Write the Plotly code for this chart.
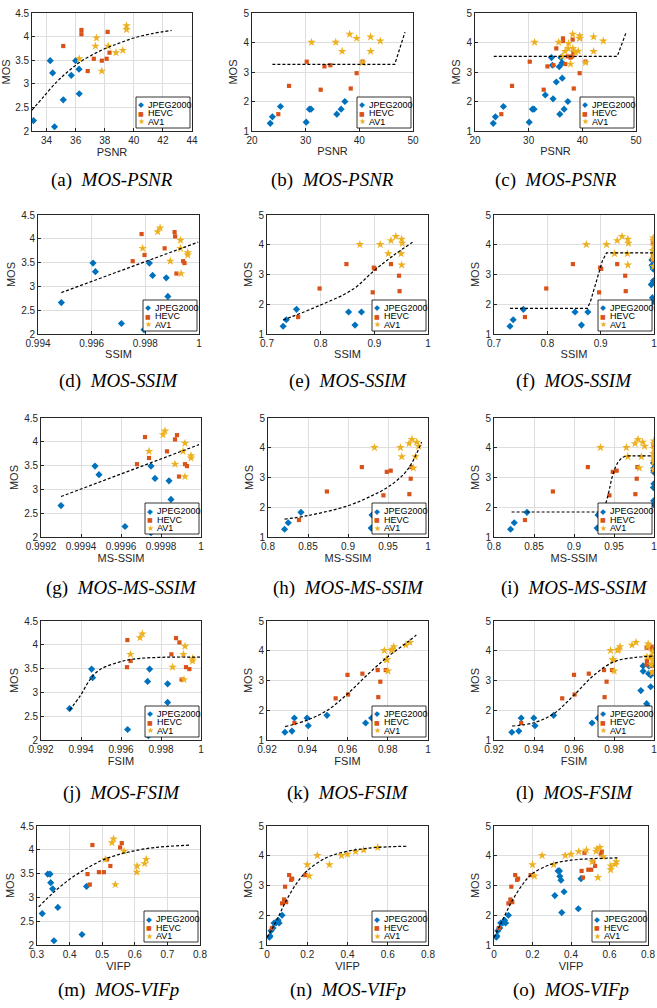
import plotly.graph_objects as go

W, H = 657, 1008
SANS = "Liberation Sans, Arial, Helvetica, sans-serif"
SERIF = "Liberation Serif, Times New Roman, serif"
GLYPH = "DejaVu Sans, sans-serif"

CODEC_NAMES = ["JPEG2000", "HEVC", "AV1"]

# ---------------- MOS values (group A = high quality set, group B = wide range set) -------------
MOS_A_J2K  = [2.22, 3.49, 3.23, 2.09, 2.66, 3.18, 3.49, 3.31, 2.79]
MOS_A_HEVC = [3.80, 4.14, 4.05, 3.27, 3.53, 3.49, 3.53, 4.10, 3.66]
MOS_A_AV1  = [3.53, 3.80, 3.97, 3.27, 3.80, 3.66, 3.71, 4.23, 4.15]
MOS_B_J2K  = [1.26, 1.48, 1.83, 1.30, 1.74, 1.74, 1.57, 1.74, 2.00]
MOS_B_HEVC = [1.57, 2.53, 3.35, 2.40, 3.19, 3.23, 2.44, 2.96, 3.35]
MOS_B_AV1  = [4.01, 4.01, 3.70, 4.28, 4.14, 3.32, 4.19, 3.70, 4.05]

# ---------------- metric values ----------------
PSNR_A_J2K  = [33.1, 34.25, 34.42, 34.55, 35.15, 35.7, 36.0, 36.23, 36.25]
PSNR_A_HEVC = [35.15, 36.4, 36.4, 36.83, 37.25, 37.8, 38.13, 38.2, 38.33]
PSNR_A_AV1  = [36.25, 37.36, 37.43, 37.8, 38.24, 38.77, 39.24, 39.5, 39.5]
PSNR_B_J2K  = [23.4, 23.8, 25.3, 30.1, 30.7, 31.0, 35.8, 36.6, 37.3]
PSNR_B_HEVC = [24.9, 26.9, 30.2, 32.8, 33.5, 34.6, 38.4, 39.5, 40.6]
PSNR_B_AV1  = [31.1, 35.6, 36.8, 38.2, 39.5, 40.6, 42.1, 42.1, 43.9]

SSIM_A_J2K  = [0.99711, 0.99605, 0.99827, 0.99795, 0.99487, 0.99878, 0.99815, 0.99614, 0.99884]
SSIM_A_HEVC = [0.99872, 0.99909, 0.99911, 0.99916, 0.99753, 0.99946, 0.99941, 0.99786, 0.99797]
SSIM_A_AV1  = [0.99893, 0.99790, 0.99931, 0.99933, 0.99931, 0.99958, 0.99958, 0.99855, 0.99846]
SSIM_B_J2K  = [0.730, 0.736, 0.755, 0.864, 0.852, 0.876, 0.935, 0.945, 0.955]
SSIM_B_HEVC = [0.758, 0.798, 0.848, 0.897, 0.901, 0.899, 0.947, 0.946, 0.931]
SSIM_B_AV1  = [0.873, 0.911, 0.926, 0.940, 0.931, 0.951, 0.951, 0.950, 0.952]

MSSSIM_A_J2K  = [0.99962, 0.99947, 0.99977, 0.99975, 0.99930, 0.99984, 0.99975, 0.99949, 0.99985]
MSSSIM_A_HEVC = [0.99983, 0.99988, 0.99987, 0.99989, 0.99968, 0.99993, 0.99992, 0.99972, 0.99974]
MSSSIM_A_AV1  = [0.99987, 0.99974, 0.99992, 0.99992, 0.99991, 0.99995, 0.99995, 0.99982, 0.99981]
MSSSIM_B_J2K  = [0.8207, 0.8253, 0.8412, 0.929, 0.930, 0.955, 0.960, 0.965, 0.970]
MSSSIM_B_HEVC = [0.8387, 0.8736, 0.9173, 0.9443, 0.9485, 0.9534, 0.9767, 0.9784, 0.9792]
MSSSIM_B_AV1  = [0.9331, 0.9655, 0.9672, 0.9800, 0.9763, 0.9817, 0.9858, 0.9842, 0.9883]

FSIM_A_J2K  = [0.99633, 0.99453, 0.99733, 0.99737, 0.99343, 0.99833, 0.99743, 0.99458, 0.99833]
FSIM_A_HEVC = [0.99852, 0.99875, 0.99892, 0.99903, 0.99630, 0.99942, 0.99925, 0.99632, 0.99648]
FSIM_A_AV1  = [0.99858, 0.99647, 0.99920, 0.99915, 0.99912, 0.99958, 0.99958, 0.99707, 0.99695]
FSIM_B_J2K  = [0.9289, 0.9405, 0.9498, 0.9324, 0.9336, 0.9399, 0.9690, 0.972, 0.975]
FSIM_B_HEVC = [0.9336, 0.9603, 0.9750, 0.9541, 0.9600, 0.9674, 0.9753, 0.9763, 0.9790]
FSIM_B_AV1  = [0.9783, 0.9818, 0.9793, 0.9910, 0.9830, 0.9801, 0.9890, 0.9796, 0.9823]

VIFP_A_J2K  = [0.438, 0.333, 0.452, 0.352, 0.316, 0.348, 0.340, 0.342, 0.364]
VIFP_A_HEVC = [0.515, 0.560, 0.555, 0.462, 0.505, 0.455, 0.490, 0.470, 0.525]
VIFP_A_AV1  = [0.606, 0.510, 0.567, 0.540, 0.635, 0.607, 0.630, 0.535, 0.530]
VIFP_B_J2K  = [0.012, 0.020, 0.055, 0.015, 0.035, 0.045, 0.030, 0.060, 0.075]
VIFP_B_HEVC = [0.025, 0.085, 0.110, 0.075, 0.120, 0.125, 0.095, 0.090, 0.190]
VIFP_B_AV1  = [0.250, 0.370, 0.200, 0.550, 0.440, 0.210, 0.480, 0.310, 0.400]

# ---------------- fitted curves ----------------
CURVE_PSNR_A_X = [33.0, 33.8, 34.7, 35.4, 36.3, 37.7, 38.9, 40.0, 41.2, 42.6]
CURVE_PSNR_A_Y = [2.44, 2.73, 3.04, 3.24, 3.46, 3.70, 3.85, 3.97, 4.06, 4.13]
CURVE_PSNR_B_X = [23.8, 46.6, 48.5]
CURVE_PSNR_B_Y = [3.26, 3.26, 4.35]
CURVE_PSNR_C_X = [23.5, 46.5, 48.2]
CURVE_PSNR_C_Y = [3.53, 3.53, 4.36]

CURVE_SSIM_A_X = [0.99487, 0.99997]
CURVE_SSIM_A_Y = [2.87, 3.93]
CURVE_SSIM_B_X = [0.730, 0.798, 0.860, 0.899, 0.934, 0.971]
CURVE_SSIM_B_Y = [1.47, 1.96, 2.50, 3.12, 3.62, 4.08]
CURVE_SSIM_C_X = [0.730, 0.875, 0.881, 0.893, 0.903, 0.911, 0.998]
CURVE_SSIM_C_Y = [1.86, 1.86, 2.10, 2.80, 3.45, 3.73, 3.73]

CURVE_MSSSIM_A_X = [0.99930, 0.99999]
CURVE_MSSSIM_A_Y = [2.85, 3.94]
CURVE_MSSSIM_B_X = [0.8207, 0.85, 0.90, 0.93, 0.95, 0.97, 0.98, 0.992]
CURVE_MSSSIM_B_Y = [1.60, 1.72, 2.05, 2.39, 2.68, 3.12, 3.50, 4.19]
CURVE_MSSSIM_C_X = [0.822, 0.935, 0.939, 0.943, 0.947, 0.951, 0.955, 0.960, 0.966, 0.997]
CURVE_MSSSIM_C_Y = [1.84, 1.84, 2.05, 2.45, 2.95, 3.30, 3.52, 3.67, 3.73, 3.73]

CURVE_FSIM_A_X = [0.99343, 0.99395, 0.99445, 0.99495, 0.99578, 0.99662, 0.99828, 0.99995]
CURVE_FSIM_A_Y = [2.63, 2.92, 3.27, 3.48, 3.62, 3.70, 3.74, 3.74]
CURVE_FSIM_B_X = [0.929, 0.94, 0.95, 0.96, 0.97, 0.98, 0.99, 0.9942]
CURVE_FSIM_B_Y = [1.45, 1.67, 2.00, 2.55, 3.20, 3.80, 4.30, 4.53]
CURVE_FSIM_C_X = [0.929, 0.94, 0.95, 0.96, 0.97, 0.98, 0.99, 0.9997]
CURVE_FSIM_C_Y = [1.47, 1.58, 1.89, 2.51, 3.18, 3.63, 3.77, 3.82]

CURVE_VIFP_A_X = [0.305, 0.35, 0.4, 0.45, 0.5, 0.55, 0.6, 0.65, 0.7, 0.77]
CURVE_VIFP_A_Y = [2.80, 3.10, 3.38, 3.60, 3.78, 3.90, 3.98, 4.04, 4.07, 4.10]
CURVE_VIFP_B_X = [0.0, 0.03, 0.06, 0.1, 0.15, 0.2, 0.3, 0.4, 0.5, 0.6, 0.7]
CURVE_VIFP_B_Y = [1.25, 1.60, 2.00, 2.55, 3.10, 3.50, 3.95, 4.15, 4.25, 4.30, 4.32]
CURVE_VIFP_C_X = [0.0, 0.03, 0.06, 0.1, 0.15, 0.2, 0.3, 0.4, 0.5, 0.6, 0.65]
CURVE_VIFP_C_Y = [1.25, 1.65, 2.05, 2.55, 3.05, 3.40, 3.72, 3.85, 3.90, 3.92, 3.93]

# ---------------- tick labels ----------------
PSNR_A_TICKS = [34, 36, 38, 40, 42, 44]
PSNR_A_LABELS = ["34", "36", "38", "40", "42", "44"]
PSNR_B_TICKS = [20, 30, 40, 50]
PSNR_B_LABELS = ["20", "30", "40", "50"]
SSIM_A_TICKS = [0.994, 0.996, 0.998, 1.0]
SSIM_A_LABELS = ["0.994", "0.996", "0.998", "1"]
SSIM_B_TICKS = [0.7, 0.8, 0.9, 1.0]
SSIM_B_LABELS = ["0.7", "0.8", "0.9", "1"]
MSSSIM_A_TICKS = [0.9992, 0.9994, 0.9996, 0.9998, 1.0]
MSSSIM_A_LABELS = ["0.9992", "0.9994", "0.9996", "0.9998", "1"]
MSSSIM_B_TICKS = [0.8, 0.85, 0.9, 0.95, 1.0]
MSSSIM_B_LABELS = ["0.8", "0.85", "0.9", "0.95", "1"]
FSIM_A_TICKS = [0.992, 0.994, 0.996, 0.998, 1.0]
FSIM_A_LABELS = ["0.992", "0.994", "0.996", "0.998", "1"]
FSIM_B_TICKS = [0.92, 0.94, 0.96, 0.98, 1.0]
FSIM_B_LABELS = ["0.92", "0.94", "0.96", "0.98", "1"]
VIFP_A_TICKS = [0.3, 0.4, 0.5, 0.6, 0.7, 0.8]
VIFP_A_LABELS = ["0.3", "0.4", "0.5", "0.6", "0.7", "0.8"]
VIFP_B_TICKS = [0, 0.2, 0.4, 0.6, 0.8]
VIFP_B_LABELS = ["0", "0.2", "0.4", "0.6", "0.8"]
MOS_A_TICKS = [2, 2.5, 3, 3.5, 4, 4.5]
MOS_A_LABELS = ["2", "2.5", "3", "3.5", "4", "4.5"]
MOS_B_TICKS = [1, 2, 3, 4, 5]
MOS_B_LABELS = ["1", "2", "3", "4", "5"]

METRIC_LABELS = ["PSNR", "SSIM", "MS-SSIM", "FSIM", "VIFP"]
CAPTION_TEXTS = ["MOS-PSNR", "MOS-SSIM", "MOS-MS-SSIM", "MOS-FSIM", "MOS-VIFp"]
PANEL_LETTERS = list("abcdefghijklmno")

MOS_A = (MOS_A_J2K, MOS_A_HEVC, MOS_A_AV1)
MOS_B = (MOS_B_J2K, MOS_B_HEVC, MOS_B_AV1)

METRICS = [
    dict(A=(PSNR_A_J2K, PSNR_A_HEVC, PSNR_A_AV1), B=(PSNR_B_J2K, PSNR_B_HEVC, PSNR_B_AV1),
         curves=[(CURVE_PSNR_A_X, CURVE_PSNR_A_Y, "spline"), (CURVE_PSNR_B_X, CURVE_PSNR_B_Y, "linear"),
                 (CURVE_PSNR_C_X, CURVE_PSNR_C_Y, "linear")],
         xa=([33, 44], PSNR_A_TICKS, PSNR_A_LABELS), xb=([20, 50], PSNR_B_TICKS, PSNR_B_LABELS)),
    dict(A=(SSIM_A_J2K, SSIM_A_HEVC, SSIM_A_AV1), B=(SSIM_B_J2K, SSIM_B_HEVC, SSIM_B_AV1),
         curves=[(CURVE_SSIM_A_X, CURVE_SSIM_A_Y, "linear"), (CURVE_SSIM_B_X, CURVE_SSIM_B_Y, "spline"),
                 (CURVE_SSIM_C_X, CURVE_SSIM_C_Y, "linear")],
         xa=([0.994, 1.0], SSIM_A_TICKS, SSIM_A_LABELS), xb=([0.7, 1.0], SSIM_B_TICKS, SSIM_B_LABELS)),
    dict(A=(MSSSIM_A_J2K, MSSSIM_A_HEVC, MSSSIM_A_AV1), B=(MSSSIM_B_J2K, MSSSIM_B_HEVC, MSSSIM_B_AV1),
         curves=[(CURVE_MSSSIM_A_X, CURVE_MSSSIM_A_Y, "linear"), (CURVE_MSSSIM_B_X, CURVE_MSSSIM_B_Y, "spline"),
                 (CURVE_MSSSIM_C_X, CURVE_MSSSIM_C_Y, "linear")],
         xa=([0.9992, 1.0], MSSSIM_A_TICKS, MSSSIM_A_LABELS), xb=([0.8, 1.0], MSSSIM_B_TICKS, MSSSIM_B_LABELS)),
    dict(A=(FSIM_A_J2K, FSIM_A_HEVC, FSIM_A_AV1), B=(FSIM_B_J2K, FSIM_B_HEVC, FSIM_B_AV1),
         curves=[(CURVE_FSIM_A_X, CURVE_FSIM_A_Y, "spline"), (CURVE_FSIM_B_X, CURVE_FSIM_B_Y, "spline"),
                 (CURVE_FSIM_C_X, CURVE_FSIM_C_Y, "spline")],
         xa=([0.992, 1.0], FSIM_A_TICKS, FSIM_A_LABELS), xb=([0.92, 1.0], FSIM_B_TICKS, FSIM_B_LABELS)),
    dict(A=(VIFP_A_J2K, VIFP_A_HEVC, VIFP_A_AV1), B=(VIFP_B_J2K, VIFP_B_HEVC, VIFP_B_AV1),
         curves=[(CURVE_VIFP_A_X, CURVE_VIFP_A_Y, "spline"), (CURVE_VIFP_B_X, CURVE_VIFP_B_Y, "spline"),
                 (CURVE_VIFP_C_X, CURVE_VIFP_C_Y, "spline")],
         xa=([0.3, 0.8], VIFP_A_TICKS, VIFP_A_LABELS), xb=([0, 0.8], VIFP_B_TICKS, VIFP_B_LABELS)),
]

# ---------------- layout geometry (pixels) ----------------
ROWS_Y = [(13, 131), (215, 334), (418, 537), (621, 740), (826, 945)]
COLS_X = [[(32, 192), (252, 413), (475, 636)],
          [(38, 199), (267, 428), (494, 654)],
          [(41, 201), (268, 428), (494, 654)],
          [(41, 201), (267, 428), (494, 654)],
          [(37, 200), (267, 428), (494, 648)]]
CAPTION_Y = [180, 381, 588, 793, 990]

STYLES = [("#0072BD", "diamond", 5.5, "\u25C6", 7.5),
          ("#D95319", "square", 4.2, "\u25A0", 6),
          ("#EDB120", "star", 6.5, "\u2605", 8)]
TXT = "#262626"

fig = go.Figure()
layout = dict(width=W, height=H, margin=dict(l=0, r=0, t=0, b=0),
              paper_bgcolor="white", plot_bgcolor="white", showlegend=False)
annotations = []
shapes = []

for r, m in enumerate(METRICS):
    for c in range(3):
        n = r * 3 + c + 1
        sfx = "" if n == 1 else str(n)
        xref, yref = "x" + sfx, "y" + sfx
        groups = [(m["A"], MOS_A)] if c == 0 else ([(m["B"], MOS_B)] if c == 1 else
                                                    [(m["A"], MOS_A), (m["B"], MOS_B)])
        for k, (color, sym, size, _, _) in enumerate(STYLES):
            xv, yv = [], []
            for gx, gy in groups:
                xv += list(gx[k])
                yv += list(gy[k])
            fig.add_trace(go.Scatter(
                x=xv, y=yv, mode="markers", name=CODEC_NAMES[k],
                marker=dict(symbol=sym, size=size, color=color, line=dict(width=0)),
                xaxis=xref, yaxis=yref, showlegend=False))
        cx, cy, shp = m["curves"][c]
        fig.add_trace(go.Scatter(
            x=cx, y=cy, mode="lines", line=dict(color="black", width=1.2, dash="3px,2px", shape=shp),
            xaxis=xref, yaxis=yref, showlegend=False, hoverinfo="skip"))

        x0p, x1p = COLS_X[r][c]
        y0p, y1p = ROWS_Y[r]
        pw, ph = x1p - x0p, y1p - y0p
        xr, xt, xl = m["xa"] if c == 0 else m["xb"]
        if c == 0:
            yr, yt, yl = [2, 4.5], MOS_A_TICKS, MOS_A_LABELS
        else:
            yr, yt, yl = [1, 5], MOS_B_TICKS, MOS_B_LABELS
        common = dict(showline=True, mirror=True, linecolor=TXT, linewidth=0.8,
                      showgrid=True, gridcolor="#dedede", gridwidth=0.8, zeroline=False,
                      ticks="inside", ticklen=3, tickwidth=0.7, tickcolor=TXT,
                      ticklabeloverflow="allow",
                      tickfont=dict(family=SANS, size=10, color=TXT), automargin=False)
        layout["xaxis" + sfx] = dict(common, domain=[x0p / W, x1p / W], anchor=yref, range=xr,
                                     tickmode="array", tickvals=xt, ticktext=xl,
                                     title=dict(text=METRIC_LABELS[r], standoff=2,
                                                font=dict(family=SANS, size=11, color=TXT)))
        layout["yaxis" + sfx] = dict(common, domain=[1 - y1p / H, 1 - y0p / H], anchor=xref, range=yr,
                                     tickmode="array", tickvals=yt, ticktext=yl,
                                     title=dict(text="MOS", standoff=3,
                                                font=dict(family=SANS, size=11, color=TXT)))

        # legend box (custom, compact like the MATLAB legend)
        dref_x, dref_y = xref + " domain", yref + " domain"
        bw, bh, gap_r, gap_b = 54, 31, 2, 3
        bx0 = (pw - gap_r - bw) / pw
        bx1 = (pw - gap_r) / pw
        by0 = gap_b / ph
        by1 = (gap_b + bh) / ph
        shapes.append(dict(type="rect", xref=dref_x, yref=dref_y, x0=bx0, x1=bx1, y0=by0, y1=by1,
                           fillcolor="white", line=dict(color="black", width=0.8), layer="above"))
        for k, (color, _, _, glyph, gsize) in enumerate(STYLES):
            yy = (gap_b + bh - (8 + 8.5 * k)) / ph
            annotations.append(dict(xref=dref_x, yref=dref_y, x=bx0 + 5 / pw, y=yy, text=glyph,
                                    showarrow=False, xanchor="center", yanchor="middle",
                                    font=dict(family=GLYPH, size=gsize, color=color)))
            annotations.append(dict(xref=dref_x, yref=dref_y, x=bx0 + 10 / pw, y=yy,
                                    text=CODEC_NAMES[k], showarrow=False, xanchor="left",
                                    yanchor="middle", font=dict(family=SANS, size=9, color="black")))

        # caption
        annotations.append(dict(xref="paper", yref="paper", x=(x0p + x1p) / 2 / W,
                                y=1 - CAPTION_Y[r] / H,
                                text="(" + PANEL_LETTERS[n - 1] + ")  <i>" + CAPTION_TEXTS[r] + "</i>",
                                showarrow=False, xanchor="center", yanchor="middle",
                                font=dict(family=SERIF, size=19, color="black")))

layout["annotations"] = annotations
layout["shapes"] = shapes
fig.update_layout(**layout)
fig.write_html("out.html", config={"displayModeBar": False},
               post_script="document.body.style.margin='0px';document.body.style.overflow='hidden';")
